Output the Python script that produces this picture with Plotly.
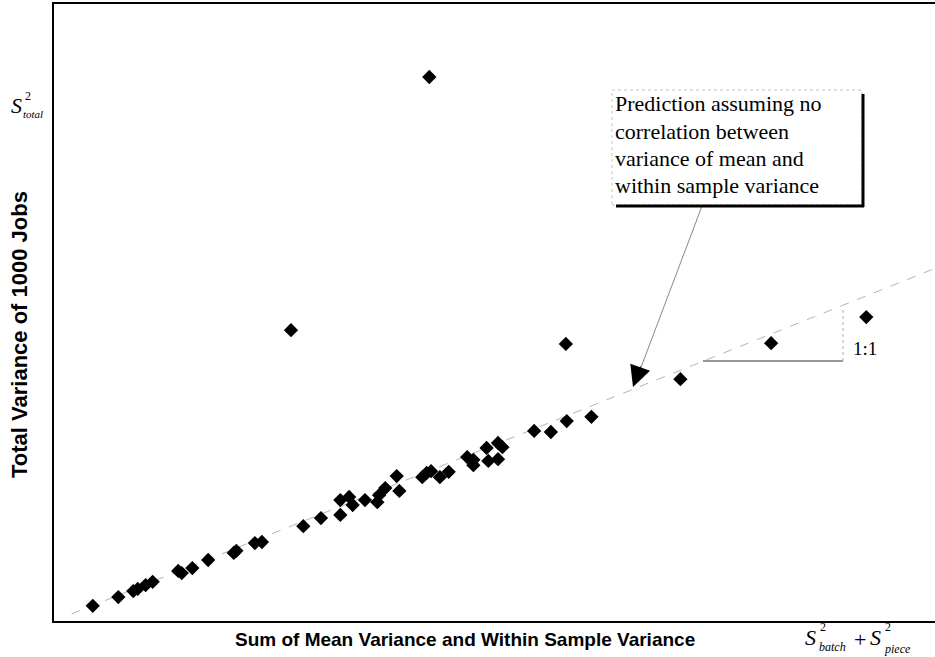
import plotly.graph_objects as go

# Sum of mean variance and within-sample variance (x) vs total variance of 1000 jobs (y)
sum_variance = [0.44, 0.73, 0.90, 0.95, 1.04, 1.12, 1.41, 1.45, 1.57, 1.75,
                2.04, 2.07, 2.28, 2.36, 2.83, 3.03, 3.25, 3.25, 3.35, 3.39,
                3.53, 3.67, 3.69, 3.76, 3.89, 3.92, 4.18, 4.23, 4.28, 4.38,
                4.48, 4.69, 4.76, 4.76, 4.91, 4.93, 5.04, 5.09, 5.04, 5.45,
                5.64, 5.82, 6.10, 7.11, 8.14, 9.22, 4.26, 2.69, 5.81]
total_variance = [0.43, 0.68, 0.85, 0.91, 1.02, 1.11, 1.42, 1.36, 1.50, 1.73,
                  1.93, 1.99, 2.21, 2.24, 2.69, 2.92, 3.01, 3.43, 3.52, 3.29,
                  3.43, 3.37, 3.57, 3.77, 4.11, 3.69, 4.08, 4.20, 4.25, 4.08,
                  4.23, 4.65, 4.57, 4.42, 4.91, 4.54, 5.05, 4.93, 4.59, 5.39,
                  5.36, 5.67, 5.79, 6.86, 7.88, 8.62, 15.43, 8.25, 7.86]

# 1:1 prediction line (no correlation between variance of mean and within-sample variance)
line_x = [0.2, 10.0]
line_y = [0.2, 10.0]

X_RANGE = [0, 10]
Y_RANGE = [0, 17.5]

W, H = 935, 657
ML, MR, MT, MB = 54, 0, 4, 36
PW, PH = W - ML - MR, H - MT - MB


def fx(px):
    return (px - ML) / PW


def fy(py):
    return (H - MB - py) / PH


def dx(px):
    return X_RANGE[0] + (px - ML) / PW * (X_RANGE[1] - X_RANGE[0])


def dy(py):
    return Y_RANGE[0] + (H - MB - py) / PH * (Y_RANGE[1] - Y_RANGE[0])


fig = go.Figure()

fig.add_trace(go.Scatter(
    x=line_x, y=line_y, mode="lines",
    line=dict(color="#b4b4b4", width=1, dash="dash"),
    hoverinfo="skip", showlegend=False,
))

fig.add_trace(go.Scatter(
    x=sum_variance, y=total_variance, mode="markers",
    marker=dict(symbol="diamond", size=11, color="black"),
    showlegend=False,
))

serif = "Liberation Serif, Times New Roman, serif"
sans = "Liberation Sans, Arial, sans-serif"

annotations = []

# Axis titles
annotations.append(dict(
    xref="paper", yref="paper", x=fx(465), y=fy(640),
    text="<b>Sum of Mean Variance and Within Sample Variance</b>",
    showarrow=False, xanchor="center", yanchor="middle",
    font=dict(family=sans, size=19, color="black"),
))
annotations.append(dict(
    xref="paper", yref="paper", x=fx(19), y=fy(335),
    text="<b>Total Variance of 1000 Jobs</b>", textangle=-90,
    showarrow=False, xanchor="center", yanchor="middle",
    font=dict(family=sans, size=22, color="black"),
))

# Symbol labels
def sym(px, py, text, size, anchor="center"):
    annotations.append(dict(
        xref="paper", yref="paper", x=fx(px), y=fy(py), text=text,
        showarrow=False, xanchor=anchor, yanchor="middle",
        font=dict(family=serif, size=size, color="black"),
    ))

sym(16, 106, "<i>S</i>", 22)
sym(23, 96, "2", 12, "left")
sym(21, 114, "<i>total</i>", 11, "left")

sym(810, 637, "<i>S</i>", 22)
sym(818, 627, "2", 12, "left")
sym(817, 647, "<i>batch</i>", 12, "left")
sym(860, 639, "+", 22)
sym(875, 637, "<i>S</i>", 22)
sym(883, 627, "2", 12, "left")
sym(882, 649, "<i>piece</i>", 12, "left")

# Callout text
for i, line in enumerate(["Prediction assuming no", "correlation between",
                          "variance of mean and", "within sample variance"]):
    annotations.append(dict(
        xref="paper", yref="paper", x=fx(613), y=fy(104 + 27 * i),
        text=line, showarrow=False, xanchor="left", yanchor="middle",
        font=dict(family=serif, size=22, color="black"),
    ))

# 1:1 slope label
annotations.append(dict(
    xref="paper", yref="paper", x=fx(851), y=fy(348), text="1:1",
    showarrow=False, xanchor="left", yanchor="middle",
    font=dict(family=serif, size=19, color="black"),
))

# Black arrowhead at the end of the callout pointer
annotations.append(dict(
    xref="x", yref="y", x=dx(633), y=dy(387),
    ax=8, ay=-22, text="", showarrow=True,
    arrowhead=2, arrowsize=4.2, arrowwidth=1, arrowcolor="black",
))

shapes = [
    # callout pointer line
    dict(type="line", xref="paper", yref="paper",
         x0=fx(702), x1=fx(640), y0=fy(206), y1=fy(370),
         line=dict(color="#888888", width=1)),
    # callout box
    dict(type="rect", xref="paper", yref="paper",
         x0=fx(612), x1=fx(862), y0=fy(205), y1=fy(90),
         line=dict(color="#c4c4c4", width=1, dash="dot")),
    dict(type="line", xref="paper", yref="paper",
         x0=fx(863), x1=fx(863), y0=fy(94), y1=fy(207),
         line=dict(color="black", width=3)),
    dict(type="line", xref="paper", yref="paper",
         x0=fx(616), x1=fx(864), y0=fy(206), y1=fy(206),
         line=dict(color="black", width=3)),
    # slope triangle
    dict(type="line", xref="x", yref="y",
         x0=dx(703), x1=dx(843), y0=dy(361), y1=dy(361),
         line=dict(color="#333333", width=1)),
    dict(type="line", xref="x", yref="y",
         x0=dx(843), x1=dx(843), y0=dy(361), y1=dy(307),
         line=dict(color="#b0b0b0", width=1, dash="dot")),
]

fig.update_layout(
    width=W, height=H,
    margin=dict(l=ML, r=MR, t=MT, b=MB),
    paper_bgcolor="white", plot_bgcolor="white",
    xaxis=dict(range=X_RANGE, showgrid=False, zeroline=False,
               showticklabels=False, ticks="", showline=True,
               linecolor="black", linewidth=2, mirror=True),
    yaxis=dict(range=Y_RANGE, showgrid=False, zeroline=False,
               showticklabels=False, ticks="", showline=True,
               linecolor="black", linewidth=2),
    annotations=annotations,
    shapes=shapes,
    showlegend=False,
)

fig.write_html("out.html")
